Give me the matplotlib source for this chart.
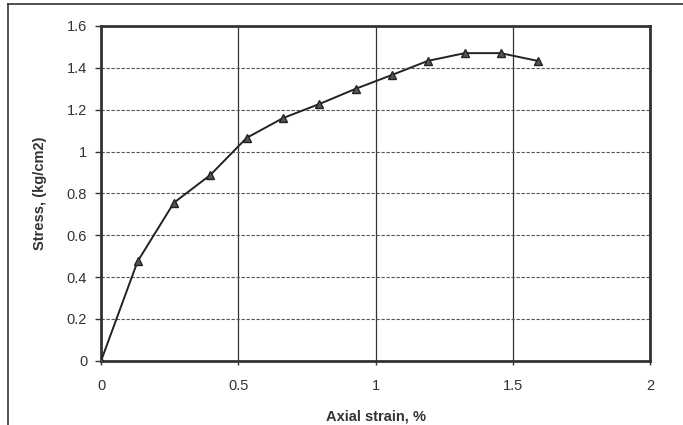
import matplotlib.pyplot as plt
from matplotlib.lines import Line2D

strain = [0, 0.133, 0.265, 0.398, 0.53, 0.663, 0.795, 0.928, 1.06, 1.19, 1.325, 1.455, 1.59]
stress = [0, 0.475, 0.755, 0.888, 1.065, 1.16, 1.227, 1.30, 1.366, 1.433, 1.47, 1.47, 1.433]

xticks = [0, 0.5, 1, 1.5, 2]
xticklabels = ["0", "0.5", "1", "1.5", "2"]
yticks = [0, 0.2, 0.4, 0.6, 0.8, 1, 1.2, 1.4, 1.6]
yticklabels = ["0", "0.2", "0.4", "0.6", "0.8", "1", "1.2", "1.4", "1.6"]

plt.rcParams['font.family'] = ['Liberation Sans', 'DejaVu Sans']

fig = plt.figure(figsize=(6.83, 4.25), dpi=100)
ax = fig.add_axes([0.148, 0.151, 0.804, 0.788])

# frame around the whole picture (top and left edge visible)
fig.add_artist(Line2D([0.012, 0.012], [0, 0.99], transform=fig.transFigure, color="#333333", lw=1.2))
fig.add_artist(Line2D([0.012, 1.0], [0.99, 0.99], transform=fig.transFigure, color="#333333", lw=1.2))

ax.plot(strain, stress, color="#222222", lw=1.4, marker="^", ms=5.5,
        markerfacecolor="#555555", markeredgecolor="#222222", zorder=3)

ax.set_xlim(0, 2)
ax.set_ylim(0, 1.6)
ax.set_xticks(xticks)
ax.set_xticklabels(xticklabels)
ax.set_yticks(yticks)
ax.set_yticklabels(yticklabels)

ax.xaxis.grid(True, color="#333333", lw=0.9, ls="-")
ax.yaxis.grid(True, color="#555555", lw=0.8, ls=(0, (3, 1.5)))
ax.set_axisbelow(True)

for s in ax.spines.values():
    s.set_linewidth(2)
    s.set_color("#333333")

ax.tick_params(axis="both", labelsize=10.5, colors="#333333", length=4, width=1, direction="out", pad=6)
ax.tick_params(axis="x", length=3, pad=10)

ax.set_xlabel("Axial strain, %", fontsize=10.5, fontweight="bold", color="#333333", labelpad=12)
ax.set_ylabel("Stress, (kg/cm2)", fontsize=10.5, fontweight="bold", color="#333333", labelpad=14)

fig.savefig("out.png", dpi=100)
